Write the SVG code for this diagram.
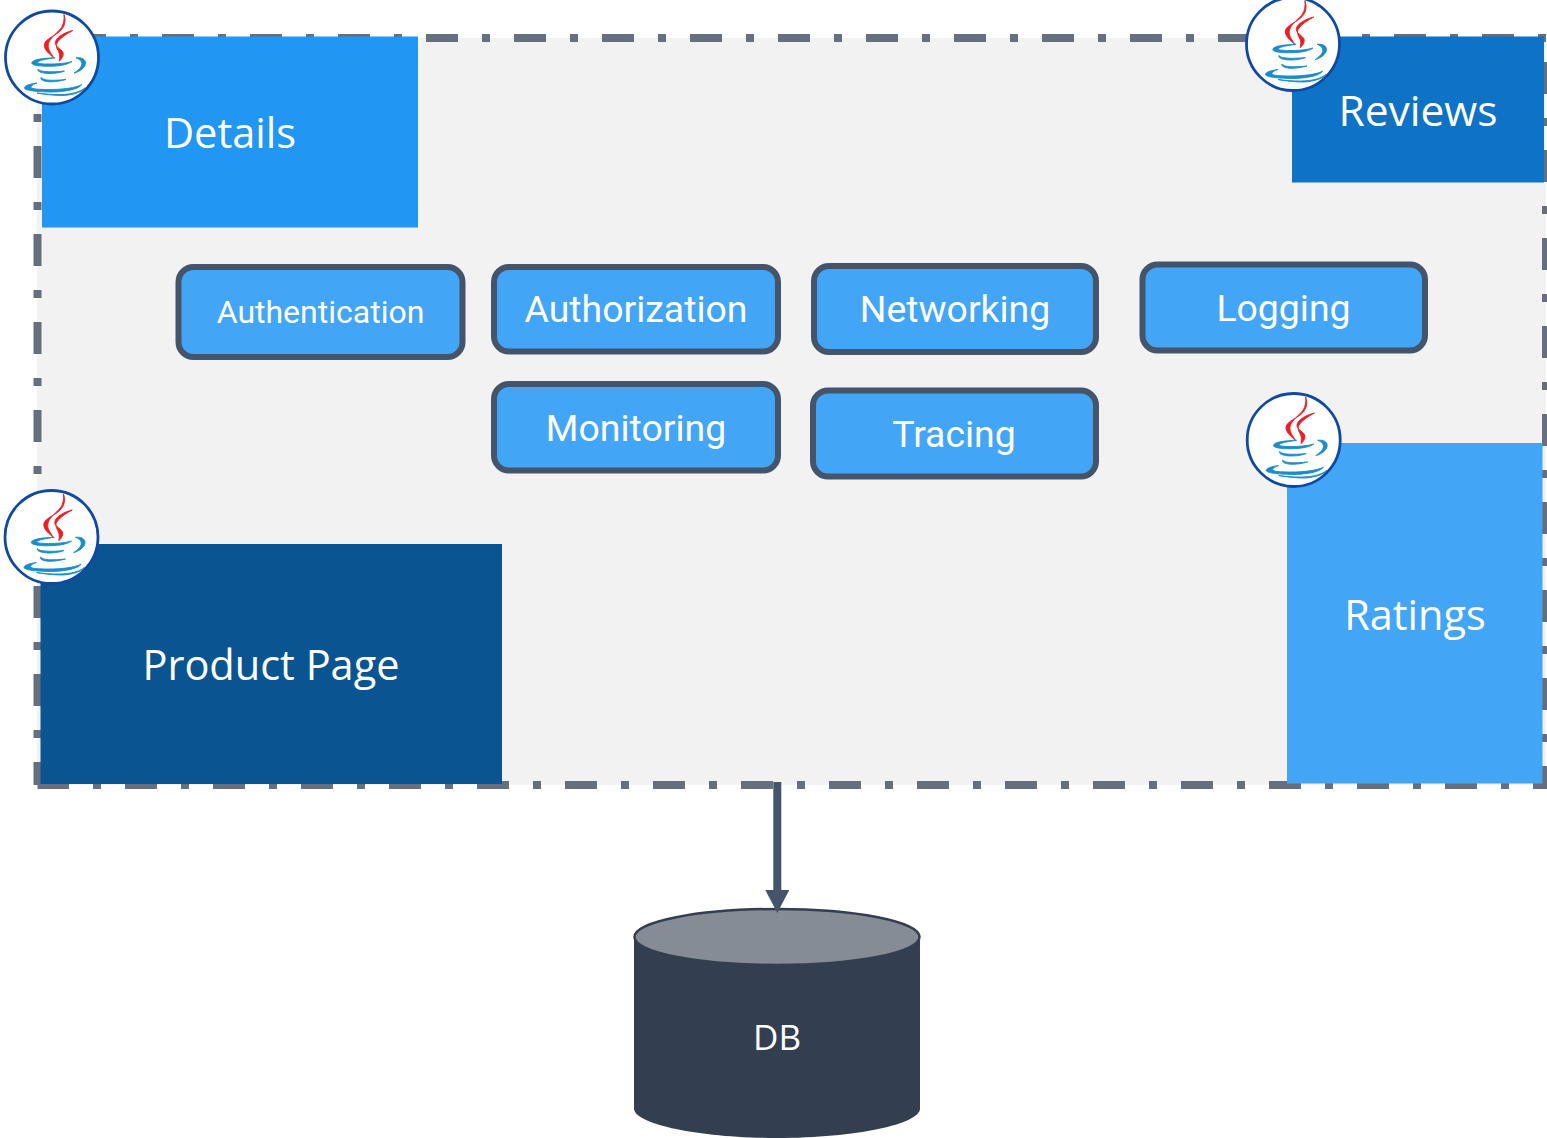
<svg xmlns="http://www.w3.org/2000/svg" width="1547" height="1138" viewBox="0 0 1547 1138">
<style>
.frame{fill:none;stroke:#666f7d;stroke-width:8;stroke-dasharray:32 24 8 24}
.plugin{fill:#42a5f5;stroke:#44546a;stroke-width:6}
.svc{font-family:"Open Sans",sans-serif;font-size:41.500px;fill:#fff;text-anchor:middle}
.lbl{font-family:Roboto,sans-serif;font-size:37.400px;fill:#fff;text-anchor:middle}
.ring{fill:#fff;stroke:#0f4aa0;stroke-width:2.800}
.red{fill:#ee1c25;stroke:#ee1c25;stroke-width:.9}
.blue{fill:#1b8cc6;stroke:#1b8cc6;stroke-width:.9}
</style>
<defs>
<marker id="arrow" markerUnits="userSpaceOnUse" markerWidth="24" markerHeight="24" viewBox="0 0 24 24" refX="1" refY="12" orient="auto">
<path d="M0 0L23 12L0 24Z" fill="#44546a"/>
</marker>
<g id="java">
<circle class="ring" r="46.500"/>
<path class="red" d="M12 -43C15 -34 11 -28 5 -24C-1 -20 -8 -17 -7.700 -12C-7.500 -7 -2 -3 2 .5C-1 -4 -5 -9 -3.500 -14C-2 -20 6 -25 9.500 -30C11.500 -33 12.500 -38 12 -43Z"/>
<path class="red" d="M20.700 -27C13 -25 5 -21 3.500 -16C2 -11 9 -9 11 -5C12 -1 9 2 7.300 3.700C8 0 8 -3 6.500 -6C5 -9 3 -12 6 -16C9 -20 15 -24 20.700 -27Z"/>
<path class="blue" d="M3 .3C-8 .5 -20 2 -20.300 5.500C-20 8.500 -8 9 0 8.700C8 8.500 16 7 20 4C14 6 4 6.500 -3 6.500C-10 6.500 -15 6 -14.500 4.700C-14 3 -5 1.500 3 .3Z"/>
<path class="blue" d="M24 .3C30 -.5 33.500 2 33.500 5.500C33.500 10 28 14 22 15.700C26 13 30 9.500 29.800 6C29.600 3 27 1.500 24 .3Z"/>
<path class="blue" d="M-14 11.500C-15.500 14.500 -8 16 -2 16C4 16 9 15 12.500 13.500C6 14.300 -2 14.500 -7 14C-11 13.500 -13 13 -14 11.500Z"/>
<path class="blue" d="M-11 20C-12.500 23 -5 24.500 -1 24.300C4 24.200 8 23.500 14 22C8 22.500 2 23 -3 22.700C-7 22.500 -10 21.500 -11 20Z"/>
<path class="blue" d="M-15 25.500C-22 26.500 -27.500 28 -27.500 30.500C-27.500 33 -14 34.500 -1 34.500C12 34.500 27 32 29.700 27C24 30.500 10 32 -3 32C-13 32 -21 31.500 -21 29.800C-21 28 -18 26.500 -15 25.500Z"/>
<path class="blue" d="M-15 35.500C-5 37.500 5 38 11 38C22 37.500 31 34 33 30.300C29 34 20 37 8 37C0 37 -8 36.500 -15 35.500Z"/>
</g>
</defs>

<g id="mesh-frame">
<rect x="37" y="38" width="1509" height="747" fill="#f2f2f2"/>
<path class="frame" stroke-dashoffset="51.500" d="M37.500 38H1546V785H37.500"/>
<path class="frame" stroke-dashoffset="68" d="M37.500 38V785"/>
</g>

<g id="details">
<rect x="42" y="36.500" width="376" height="191" fill="#2196f3"/>
<text class="svc" x="230" y="148">Details</text>
<use href="#java" x="52" y="57.500"/>
</g>
<g id="reviews">
<rect x="1292" y="36.500" width="252" height="146" fill="#0e72c6"/>
<text class="svc" x="1418" y="126" style="font-size:42.500px">Reviews</text>
<use href="#java" x="1293" y="44"/>
</g>
<g id="ratings">
<rect x="1287" y="443" width="255.500" height="340.500" fill="#42a5f5"/>
<text class="svc" x="1415" y="630">Ratings</text>
<use href="#java" x="1293.700" y="440"/>
</g>
<g id="product-page">
<rect x="40.500" y="544" width="461.500" height="240" fill="#0a5591"/>
<text class="svc" x="271" y="680">Product Page</text>
<use href="#java" x="51.500" y="537"/>
</g>

<g id="authentication">
<rect class="plugin" x="178.500" y="267" width="284" height="90" rx="15"/>
<text class="lbl" x="320.500" y="323" style="font-size:32px">Authentication</text>
</g>
<g id="authorization">
<rect class="plugin" x="494" y="267" width="284" height="84.500" rx="15"/>
<text class="lbl" x="636" y="322">Authorization</text>
</g>
<g id="networking">
<rect class="plugin" x="814" y="266" width="282" height="86" rx="15"/>
<text class="lbl" x="955" y="322">Networking</text>
</g>
<g id="logging">
<rect class="plugin" x="1142.500" y="264.500" width="282.500" height="86" rx="15"/>
<text class="lbl" x="1283.500" y="321">Logging</text>
</g>
<g id="monitoring">
<rect class="plugin" x="494" y="384" width="284" height="86.500" rx="15"/>
<text class="lbl" x="636" y="441">Monitoring</text>
</g>
<g id="tracing">
<rect class="plugin" x="813" y="390.500" width="283" height="86" rx="15"/>
<text class="lbl" x="954" y="447">Tracing</text>
</g>

<g id="db">
<path d="M634 937V1108.500C634 1124 698 1138 777 1138C856 1138 920 1124 920 1108.500V937Z" fill="#333e50"/>
<ellipse cx="777" cy="937" rx="142.500" ry="28" fill="#858c96" stroke="#333e50" stroke-width="2.500"/>
<text class="svc" x="777" y="1050" style="font-size:35px">DB</text>
</g>

<g id="connectors">
<path d="M777.300 782V891" fill="none" stroke="#44546a" stroke-width="8" marker-end="url(#arrow)"/>
</g>
</svg>
